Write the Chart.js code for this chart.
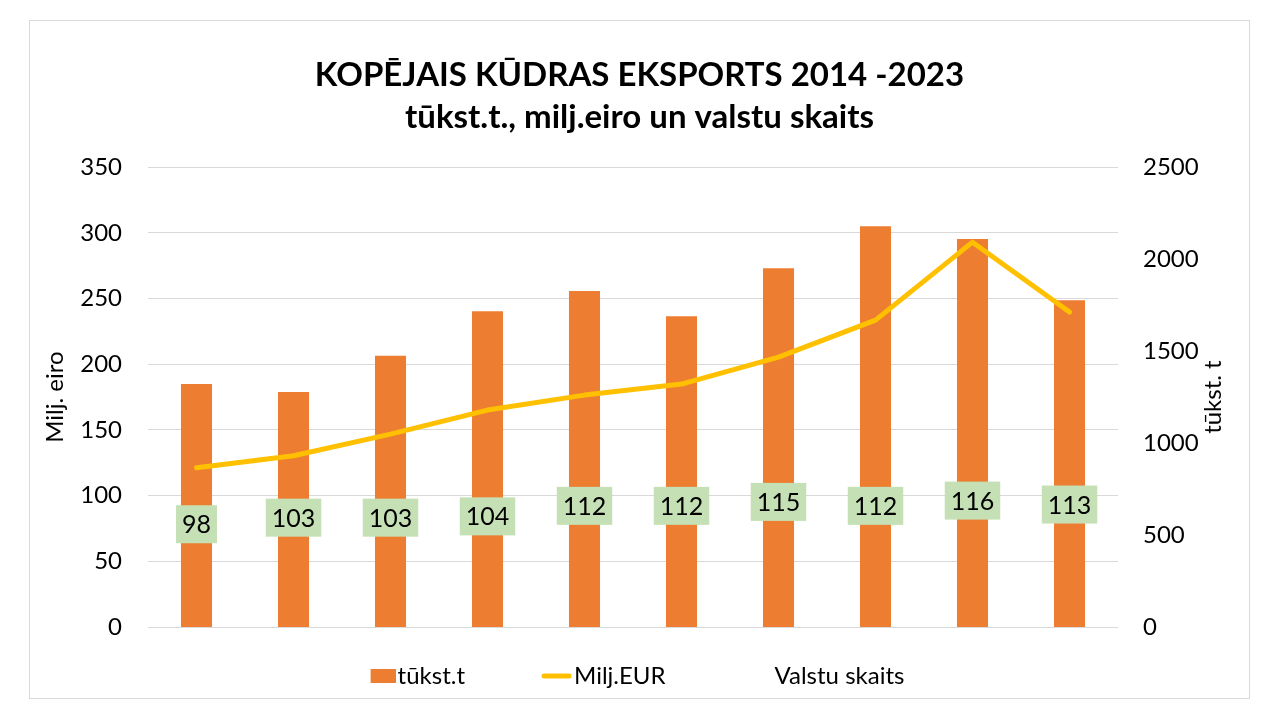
<!DOCTYPE html>
<html lang="lv">
<head>
<meta charset="utf-8">
<title>Kopējais kūdras eksports 2014-2023</title>
<script src="https://cdn.jsdelivr.net/npm/chart.js@4.4.1/dist/chart.umd.min.js"></script>
<style>
  html, body { margin: 0; padding: 0; background: #fff; }
  #wrap {
    position: absolute; left: 29px; top: 20px;
    width: 1221px; height: 679px;
    border: 1px solid #d9d9d9; box-sizing: border-box;
  }
  #chart { display: block; }
</style>
</head>
<body>
<div id="wrap"><canvas id="chart"></canvas></div>
<script>
// data
const years = ["2014", "2015", "2016", "2017", "2018", "2019", "2020", "2021", "2022", "2023"];
const tukstT = [1321, 1277, 1474, 1717, 1826, 1690, 1951, 2179, 2109, 1777];
const miljEur = [121.2, 130.3, 146.8, 165.1, 176.5, 184.9, 205.4, 233.6, 292.9, 239.7];
const valstis = [98, 103, 103, 104, 112, 112, 115, 112, 116, 113];

const FONT = "Lato";
const BAR_COLOR = "#ed7d31";
const LINE_COLOR = "#ffc000";
const BOX_W = 87;

// legend markers: small canvases, marker pushed to the right edge so it sits next to the text
const makeMarker = (kind) => {
  const c = document.createElement("canvas");
  c.width = BOX_W + 20;
  c.height = 20;
  const g = c.getContext("2d");
  if (kind === "bar") {
    g.fillStyle = BAR_COLOR;
    g.fillRect(c.width - 25, 3, 25, 14);
  } else if (kind === "line") {
    g.strokeStyle = LINE_COLOR;
    g.lineWidth = 5;
    g.lineCap = "round";
    g.beginPath();
    g.moveTo(c.width - 28, 10);
    g.lineTo(c.width - 3, 10);
    g.stroke();
  }
  return c;
};
const markers = [makeMarker("bar"), makeMarker("line"), makeMarker("none")];

// green boxes with the number of countries
const countryLabels = {
  id: "countryLabels",
  afterDatasetsDraw(chart) {
    const meta = chart.getDatasetMeta(2);
    const ctx = chart.ctx;
    ctx.save();
    ctx.font = "25px " + FONT;
    ctx.textAlign = "center";
    ctx.textBaseline = "middle";
    meta.data.forEach((pt, i) => {
      const txt = String(valstis[i]);
      const w = ctx.measureText(txt).width + 12;
      const h = 38;
      const cy = pt.y + 26;
      ctx.fillStyle = "#c5e0b4";
      ctx.fillRect(pt.x - w / 2, cy - h / 2, w, h);
      ctx.fillStyle = "#000";
      ctx.fillText(txt, pt.x, cy + 1);
    });
    ctx.restore();
  },
};

// right axis title, read bottom to top like the left one
const rightTitle = {
  id: "rightTitle",
  afterDraw(chart) {
    const s = chart.scales.y1;
    const ctx = chart.ctx;
    ctx.save();
    ctx.translate(s.right - 36, (s.top + s.bottom) / 2);
    ctx.rotate(-Math.PI / 2);
    ctx.font = "24px " + FONT;
    ctx.fillStyle = "#000";
    ctx.textAlign = "center";
    ctx.textBaseline = "middle";
    ctx.fillText("tūkst. t", 0, 0);
    ctx.restore();
  },
};

// the legend in the original sits a bit left of centre
const legendShift = {
  id: "legendShift",
  afterLayout(chart) {
    chart.legend.left -= 38;
    chart.legend.right -= 38;
  },
};

new Chart(document.getElementById("chart"), {
  data: {
    labels: years,
    datasets: [
      {
        type: "bar",
        label: "tūkst.t",
        data: tukstT,
        yAxisID: "y1",
        backgroundColor: BAR_COLOR,
        categoryPercentage: 0.32,
        barPercentage: 1,
        order: 2,
      },
      {
        type: "line",
        label: "Milj.EUR",
        data: miljEur,
        yAxisID: "y",
        borderColor: LINE_COLOR,
        backgroundColor: LINE_COLOR,
        borderWidth: 5,
        borderCapStyle: "round",
        borderJoinStyle: "round",
        pointRadius: 0,
        tension: 0,
        order: 1,
      },
      {
        type: "line",
        label: "Valstu skaits",
        data: valstis,
        yAxisID: "y",
        showLine: false,
        pointRadius: 0,
        borderColor: "transparent",
        backgroundColor: "transparent",
        order: 0,
      },
    ],
  },
  options: {
    responsive: true,
    maintainAspectRatio: false,
    animation: false,
    layout: { padding: 0 },
    scales: {
      x: {
        ticks: { display: false },
        grid: { display: false },
        border: { display: false },
        afterFit: (s) => { s.height = 27; },
      },
      y: {
        position: "left",
        min: 0,
        max: 350,
        ticks: { stepSize: 50, padding: 26, color: "#000", font: { family: FONT, size: 24 } },
        grid: { color: "#d9d9d9", drawTicks: false },
        border: { display: false },
        title: {
          display: true,
          text: "Milj. eiro",
          color: "#000",
          font: { family: FONT, size: 24 },
          padding: { top: 11, bottom: 0 },
        },
        afterFit: (s) => { s.width = 118; },
      },
      y1: {
        position: "right",
        min: 0,
        max: 2500,
        ticks: {
          stepSize: 500,
          padding: 25,
          color: "#000",
          font: { family: FONT, size: 24 },
          callback: (v) => String(v),
        },
        grid: { display: false, drawTicks: false },
        border: { display: false },
        afterFit: (s) => { s.width = 131; },
      },
    },
    plugins: {
      title: {
        display: true,
        text: ["KOPĒJAIS KŪDRAS EKSPORTS 2014 -2023", "tūkst.t., milj.eiro un valstu skaits"],
        color: "#000",
        font: { family: FONT, size: 33, weight: "bold", lineHeight: 1.29 },
        padding: { top: 33, bottom: 28 },
      },
      legend: {
        position: "bottom",
        labels: {
          usePointStyle: true,
          pointStyleWidth: BOX_W,
          padding: 10,
          color: "#000",
          font: { family: FONT, size: 24 },
          sort: (a, b) => a.datasetIndex - b.datasetIndex,
          generateLabels: (chart) => {
            const items = Chart.defaults.plugins.legend.labels.generateLabels(chart);
            items.forEach((it) => { it.pointStyle = markers[it.datasetIndex]; });
            return items;
          },
        },
      },
      tooltip: { enabled: false },
    },
  },
  plugins: [countryLabels, rightTitle, legendShift],
});
</script>
</body>
</html>
